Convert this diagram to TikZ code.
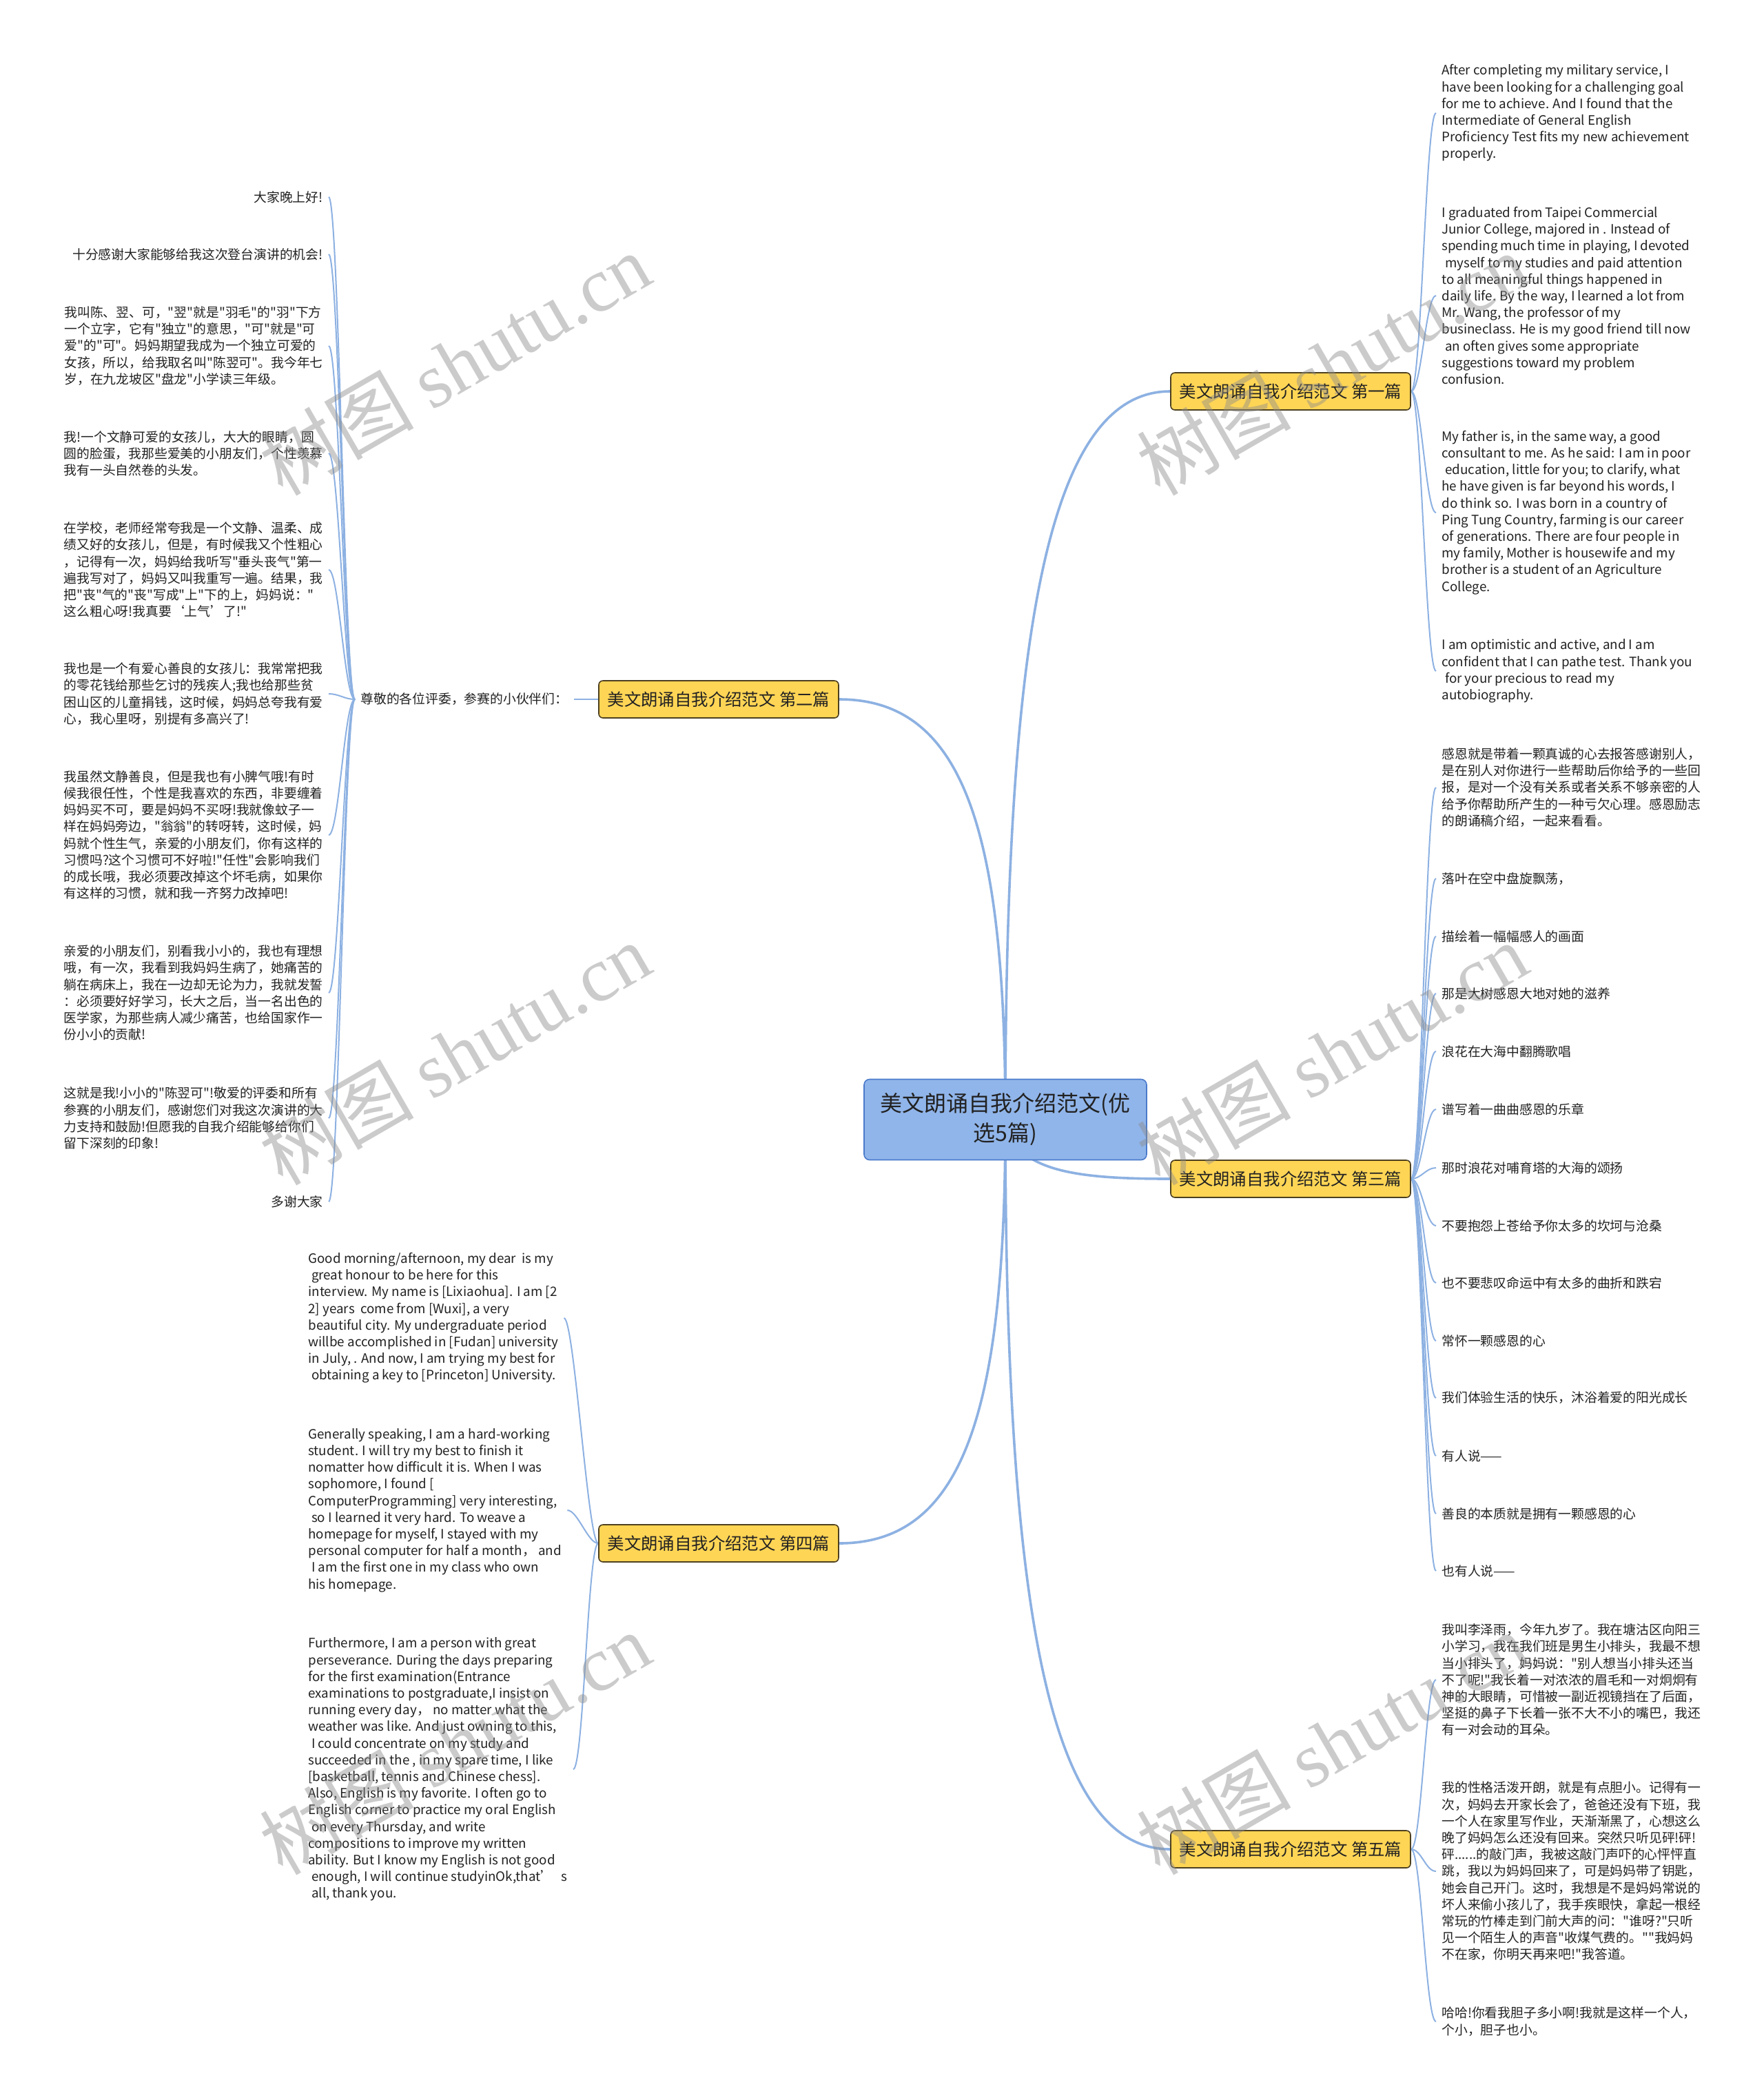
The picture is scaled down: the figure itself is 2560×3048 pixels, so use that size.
\documentclass[tikz,border=0pt]{standalone}
\usepackage{fontspec}
\setmainfont{Noto Sans CJK SC}[Ligatures=TeXOff]
\newfontfamily\wmlatin{Liberation Serif}[Ligatures=TeXOff]
\usetikzlibrary{backgrounds}
\definecolor{lnblue}{HTML}{8DB1E2}
\definecolor{rootfill}{HTML}{90B5EA}
\definecolor{rootdraw}{HTML}{4A7ACB}
\definecolor{brfill}{HTML}{FFD555}
\definecolor{brdraw}{HTML}{4D4020}
\definecolor{txt}{HTML}{222222}
\newcommand\lsp{\hspace*{0.25em}}
\tikzset{
  leaf/.style={inner xsep=4pt, inner ysep=1pt, align=left, text=txt, font=\fontsize{9.4pt}{12.1pt}\selectfont},
  rleaf/.style={leaf, anchor=west},
  lleaf/.style={leaf, anchor=east},
  branchbox/.style={draw=brdraw, fill=brfill, rounded corners=3pt, line width=0.8pt, minimum width=174pt, minimum height=27pt, inner sep=0pt, font=\fontsize{12.2pt}{14pt}\selectfont, text=txt},
  rootbox/.style={draw=rootdraw, fill=rootfill, rounded corners=4pt, line width=0.8pt, minimum width=205pt, minimum height=58.5pt, inner sep=0pt, align=center, font=\fontsize{16pt}{21.5pt}\selectfont, text=txt},
  trunk/.style={draw=lnblue, line width=1.8pt},
  twig/.style={draw=lnblue, line width=1pt},
  wm/.style={text=black!45, text opacity=0.45, rotate=30, font=\fontsize{56pt}{56pt}\selectfont},
}
\begin{document}
\begin{tikzpicture}[x=0.5pt,y=-0.5pt]
\useasboundingbox (0,0) rectangle (2560,3048);

% root and branches
\node[rootbox] (root) at (1459,1625) {美文朗诵自我介绍范文(优\\选5篇)};
\node[branchbox] (b1) at (1873,568) {美文朗诵自我介绍范文 第一篇};
\node[branchbox] (b2) at (1043,1015) {美文朗诵自我介绍范文 第二篇};
\node[branchbox] (b3) at (1873,1711) {美文朗诵自我介绍范文 第三篇};
\node[branchbox] (b4) at (1043,2240) {美文朗诵自我介绍范文 第四篇};
\node[branchbox] (b5) at (1873,2684) {美文朗诵自我介绍范文 第五篇};

% branch 1
\node[rleaf] (e1) at (2084,164) {After completing my military service, I\\have been looking for a challenging goal\\for me to achieve. And I found that the\\Intermediate of General English\\Proficiency Test fits my new achievement\\properly.};
\node[rleaf] (e2) at (2084,429) {I graduated from Taipei Commercial\\Junior College, majored in . Instead of\\spending much time in playing, I devoted\\\lsp myself to my studies and paid attention\\to all meaningful things happened in\\daily life. By the way, I learned a lot from\\Mr. Wang, the professor of my\\busineclass. He is my good friend till now\\\lsp an often gives some appropriate\\suggestions toward my problem\\confusion.};
\node[rleaf] (e3) at (2084,744) {My father is, in the same way, a good\\consultant to me. As he said: I am in poor\\\lsp education, little for you; to clarify, what\\he have given is far beyond his words, I\\do think so. I was born in a country of\\Ping Tung Country, farming is our career\\of generations. There are four people in\\my family, Mother is housewife and my\\brother is a student of an Agriculture\\College.};
\node[rleaf] (e4) at (2084,974) {I am optimistic and active, and I am\\confident that I can pathe test. Thank you\\\lsp for your precious to read my\\autobiography.};

% branch 2
\node[leaf, anchor=west] (mid) at (515,1015) {尊敬的各位评委，参赛的小伙伴们：};
\node[lleaf] (l1) at (477,286) {大家晚上好!};
\node[lleaf] (l2) at (477,369) {十分感谢大家能够给我这次登台演讲的机会!};
\node[lleaf] (l3) at (477,502) {我叫陈、翌、可，"翌"就是"羽毛"的"羽"下方\\一个立字，它有"独立"的意思，"可"就是"可\\爱"的"可"。妈妈期望我成为一个独立可爱的\\女孩，所以，给我取名叫"陈翌可"。我今年七\\岁，在九龙坡区"盘龙"小学读三年级。};
\node[lleaf] (l4) at (477,658) {我!一个文静可爱的女孩儿，大大的眼睛，圆\\圆的脸蛋，我那些爱美的小朋友们，个性羡慕\\我有一头自然卷的头发。};
\node[lleaf] (l5) at (477,827) {在学校，老师经常夸我是一个文静、温柔、成\\绩又好的女孩儿，但是，有时候我又个性粗心\\，记得有一次，妈妈给我听写"垂头丧气"第一\\遍我写对了，妈妈又叫我重写一遍。结果，我\\把"丧"气的"丧"写成"上"下的上，妈妈说："\\这么粗心呀!我真要‘上气’了!"};
\node[lleaf] (l6) at (477,1007) {我也是一个有爱心善良的女孩儿：我常常把我\\的零花钱给那些乞讨的残疾人;我也给那些贫\\困山区的儿童捐钱，这时候，妈妈总夸我有爱\\心，我心里呀，别提有多高兴了!};
\node[lleaf] (l7) at (477,1212) {我虽然文静善良，但是我也有小脾气哦!有时\\候我很任性，个性是我喜欢的东西，非要缠着\\妈妈买不可，要是妈妈不买呀!我就像蚊子一\\样在妈妈旁边，"翁翁"的转呀转，这时候，妈\\妈就个性生气，亲爱的小朋友们，你有这样的\\习惯吗?这个习惯可不好啦!"任性"会影响我们\\的成长哦，我必须要改掉这个坏毛病，如果你\\有这样的习惯，就和我一齐努力改掉吧!};
\node[lleaf] (l8) at (477,1441) {亲爱的小朋友们，别看我小小的，我也有理想\\哦，有一次，我看到我妈妈生病了，她痛苦的\\躺在病床上，我在一边却无论为力，我就发誓\\：必须要好好学习，长大之后，当一名出色的\\医学家，为那些病人减少痛苦，也给国家作一\\份小小的贡献!};
\node[lleaf] (l9) at (477,1623) {这就是我!小小的"陈翌可"!敬爱的评委和所有\\参赛的小朋友们，感谢您们对我这次演讲的大\\力支持和鼓励!但愿我的自我介绍能够给你们\\留下深刻的印象!};
\node[lleaf] (l10) at (477,1744) {多谢大家};

% branch 3
\node[rleaf] (c1) at (2084,1143) {感恩就是带着一颗真诚的心去报答感谢别人，\\是在别人对你进行一些帮助后你给予的一些回\\报，是对一个没有关系或者关系不够亲密的人\\给予你帮助所产生的一种亏欠心理。感恩励志\\的朗诵稿介绍，一起来看看。};
\node[rleaf] (c2) at (2084,1275) {落叶在空中盘旋飘荡，};
\node[rleaf] (c3) at (2084,1359) {描绘着一幅幅感人的画面};
\node[rleaf] (c4) at (2084,1442) {那是大树感恩大地对她的滋养};
\node[rleaf] (c5) at (2084,1526) {浪花在大海中翻腾歌唱};
\node[rleaf] (c6) at (2084,1610) {谱写着一曲曲感恩的乐章};
\node[rleaf] (c7) at (2084,1695) {那时浪花对哺育塔的大海的颂扬};
\node[rleaf] (c8) at (2084,1779) {不要抱怨上苍给予你太多的坎坷与沧桑};
\node[rleaf] (c9) at (2084,1862) {也不要悲叹命运中有太多的曲折和跌宕};
\node[rleaf] (c10) at (2084,1946) {常怀一颗感恩的心};
\node[rleaf] (c11) at (2084,2029) {我们体验生活的快乐，沐浴着爱的阳光成长};
\node[rleaf] (c12) at (2084,2113) {有人说——};
\node[rleaf] (c13) at (2084,2197) {善良的本质就是拥有一颗感恩的心};
\node[rleaf] (c14) at (2084,2280) {也有人说——};

% branch 4
\node[rleaf] (g1) at (439,1913) {Good morning/afternoon, my dear\ \ is my\\\lsp great honour to be here for this\\interview. My name is [Lixiaohua]. I am [2\\2] years\ \ come from [Wuxi], a very\\beautiful city. My undergraduate period\\willbe accomplished in [Fudan] university\\in July, . And now, I am trying my best for\\\lsp obtaining a key to [Princeton] University.};
\node[rleaf] (g2) at (439,2192) {Generally speaking, I am a hard-working\\student. I will try my best to finish it\\nomatter how difficult it is. When I was\\sophomore, I found [\\ComputerProgramming] very interesting,\\\lsp so I learned it very hard. To weave a\\homepage for myself, I stayed with my\\personal computer for half a month，\ and\\\lsp I am the first one in my class who own\\his homepage.};
\node[rleaf] (g3) at (439,2568) {Furthermore, I am a person with great\\perseverance. During the days preparing\\for the first examination(Entrance\\examinations to postgraduate,I insist on\\running every day，\ no matter what the\\weather was like. And just owning to this,\\\lsp I could concentrate on my study and\\succeeded in the , in my spare time, I like\\{[basketball, tennis and Chinese chess].}\\Also, English is my favorite. I often go to\\English corner to practice my oral English\\\lsp on every Thursday, and write\\compositions to improve my written\\ability. But I know my English is not good\\\lsp enough, I will continue studyinOk,that’\hspace{0.6em}s\\\lsp all, thank you.};

% branch 5
\node[rleaf] (f1) at (2084,2438) {我叫李泽雨，今年九岁了。我在塘沽区向阳三\\小学习，我在我们班是男生小排头，我最不想\\当小排头了，妈妈说："别人想当小排头还当\\不了呢!"我长着一对浓浓的眉毛和一对炯炯有\\神的大眼睛，可惜被一副近视镜挡在了后面，\\坚挺的鼻子下长着一张不大不小的嘴巴，我还\\有一对会动的耳朵。};
\node[rleaf] (f2) at (2084,2716) {我的性格活泼开朗，就是有点胆小。记得有一\\次，妈妈去开家长会了，爸爸还没有下班，我\\一个人在家里写作业，天渐渐黑了，心想这么\\晚了妈妈怎么还没有回来。突然只听见砰!砰!\\砰......的敲门声，我被这敲门声吓的心怦怦直\\跳，我以为妈妈回来了，可是妈妈带了钥匙，\\她会自己开门。这时，我想是不是妈妈常说的\\坏人来偷小孩儿了，我手疾眼快，拿起一根经\\常玩的竹棒走到门前大声的问："谁呀?"只听\\见一个陌生人的声音"收煤气费的。""我妈妈\\不在家，你明天再来吧!"我答道。};
\node[rleaf] (f3) at (2084,2934) {哈哈!你看我胆子多小啊!我就是这样一个人，\\个小，胆子也小。};

\begin{scope}[on background layer]
\fill[white] (0,0) rectangle (2560,3048);
% trunks
\draw[trunk] (root.center) .. controls (1459,900) and (1525,568) .. (b1.west);
\draw[trunk] (root.center) .. controls (1459,1207) and (1399,1015) .. (b2.east);
\draw[trunk] (root.center) .. controls (1470,1700) and (1560,1711) .. (b3.west);
\draw[trunk] (root.center) .. controls (1459,2047) and (1399,2240) .. (b4.east);
\draw[trunk] (root.center) .. controls (1459,2350) and (1525,2684) .. (b5.west);
% twigs branch 1
\foreach \n in {e1,e2,e3,e4}
  \draw[twig] (b1.east) .. controls +(15,0) and +(-15,0) .. (\n.west);
% branch 2
\draw[twig] (b2.west) -- (mid.east);
\foreach \n in {l1,l2,l3,l4,l5,l6,l7,l8,l9,l10}
  \draw[twig] (mid.west) .. controls +(-15,0) and +(15,0) .. (\n.east);
% branch 3
\foreach \n in {c1,c2,c3,c4,c5,c6,c7,c8,c9,c10,c11,c12,c13,c14}
  \draw[twig] (b3.east) .. controls +(15,0) and +(-15,0) .. (\n.west);
% branch 4
\foreach \n in {g1,g2,g3}
  \draw[twig] (b4.west) .. controls +(-15,0) and +(15,0) .. (\n.east);
% branch 5
\foreach \n in {f1,f2,f3}
  \draw[twig] (b5.east) .. controls +(15,0) and +(-15,0) .. (\n.west);
\end{scope}

% watermarks
\foreach \p [count=\i] in {(660,528),(1933,528),(660,1529),(1933,1529),(660,2530),(1933,2530)}
  \node[wm] (wm\i) at \p {树图 {\wmlatin shutu.cn}};
\end{tikzpicture}
\end{document}
